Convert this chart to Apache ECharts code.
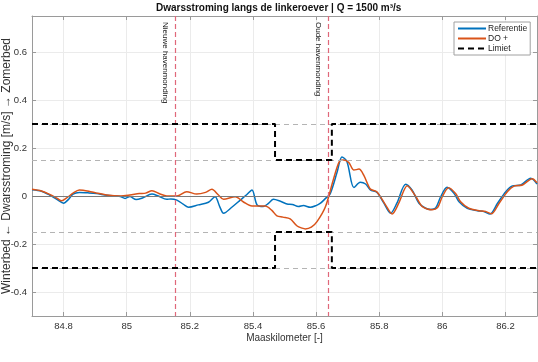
<!DOCTYPE html>
<html><head><meta charset="utf-8">
<script src="https://cdn.jsdelivr.net/npm/echarts@6/dist/echarts.min.js"></script>
<style>html,body{margin:0;padding:0;background:#fff}#c{width:538px;height:362px}</style>
</head><body><div id="c"></div>
<script>
// ---- data ----
const refKm = [84.70,84.73,84.756,84.78,84.80,84.815,84.83,84.85,84.88,84.905,84.937,84.965,84.98,84.995,85.01,85.03,85.05,85.08,85.10,85.127,85.14,85.159,85.18,85.196,85.227,85.259,85.28,85.295,85.307,85.333,85.36,85.38,85.397,85.413,85.433,85.45,85.465,85.487,85.508,85.525,85.544,85.56,85.582,85.60,85.614,85.63,85.645,85.667,85.682,85.698,85.72,85.74,85.757,85.772,85.793,85.815,85.836,85.856,85.884,85.904,85.926,85.947,85.963,85.979,85.995,86.015,86.037,86.053,86.079,86.111,86.132,86.151,86.175,86.201,86.222,86.249,86.28,86.30];
const refVal = [0.026,0.020,0.004,-0.015,-0.030,-0.015,0.008,0.015,0.013,0.010,0.003,0.000,-0.002,-0.010,-0.002,-0.015,-0.008,0.008,0.000,-0.014,-0.012,-0.017,-0.035,-0.047,-0.037,-0.026,-0.003,-0.045,-0.072,-0.047,-0.017,0.005,0.025,-0.037,-0.044,-0.030,-0.014,-0.022,-0.033,-0.035,-0.044,-0.040,-0.047,-0.040,-0.030,-0.010,0.010,0.101,0.163,0.143,0.035,0.057,0.050,0.025,0.015,-0.030,-0.072,-0.030,0.049,0.025,-0.030,-0.051,-0.056,-0.050,-0.003,0.036,0.011,-0.024,-0.051,-0.061,-0.065,-0.075,-0.030,0.018,0.042,0.046,0.074,0.050];
const doKm = [84.70,84.73,84.756,84.78,84.794,84.81,84.83,84.85,84.88,84.905,84.937,84.98,85.01,85.04,85.06,85.08,85.106,85.127,85.159,85.19,85.222,85.25,85.27,85.29,85.307,85.344,85.37,85.397,85.439,85.46,85.476,85.495,85.518,85.54,85.556,85.566,85.585,85.603,85.63,85.656,85.675,85.688,85.704,85.72,85.736,85.751,85.772,85.793,85.82,85.841,85.862,85.889,85.915,85.936,85.955,85.968,85.985,86.000,86.02,86.042,86.058,86.084,86.116,86.137,86.155,86.18,86.206,86.227,86.254,86.285,86.30];
const doVal = [0.028,0.021,0.007,-0.010,-0.020,-0.008,0.012,0.025,0.020,0.012,0.004,0.000,0.004,0.010,0.012,0.022,0.008,0.000,0.000,0.018,0.008,0.015,0.028,0.005,-0.014,-0.003,-0.025,-0.042,-0.042,-0.060,-0.083,-0.088,-0.095,-0.125,-0.134,-0.137,-0.130,-0.107,-0.044,0.074,0.146,0.150,0.139,0.108,0.112,0.087,0.029,0.017,-0.037,-0.075,-0.030,0.043,0.000,-0.044,-0.055,-0.057,-0.048,-0.003,0.034,0.010,-0.024,-0.051,-0.061,-0.065,-0.074,-0.030,0.018,0.041,0.046,0.072,0.055];
const limitKm = [84.7, 85.47, 85.47, 85.65, 85.65, 86.3];
const limitUpper = [0.3, 0.3, 0.15, 0.15, 0.3, 0.3];
const limitLower = [-0.3, -0.3, -0.15, -0.15, -0.3, -0.3];
const guideLevels = [0.3, 0.15, -0.15, -0.3];
const harbourNames = ['Nieuwe havenmonding', 'Oude havenmonding'];
const harbourKm = [85.155, 85.64];
const xRange = [84.7, 86.3];
const yRange = [-0.5, 0.75];

const zip = (a, b) => a.map((v, i) => [v, b[i]]);
const FONT = 'Liberation Sans, Arial, sans-serif';
const chart = echarts.init(document.getElementById('c'), null, {renderer: 'canvas'});

const frame = '#9a9a9a';
const baseX = {
  type: 'value', min: xRange[0], max: xRange[1], splitNumber: 8,
  axisLine: {show: true, onZero: false, lineStyle: {color: frame, width: 1}},
  axisTick: {show: true, inside: true, length: 4, lineStyle: {color: frame}},
  axisLabel: {show: true, showMinLabel: false, showMaxLabel: false, color: '#333', fontSize: 9.5, fontFamily: FONT, margin: 5},
  splitLine: {show: true, lineStyle: {color: '#ebebeb', width: 1}}
};
const baseY = {
  type: 'value', min: yRange[0], max: yRange[1], splitNumber: 6,
  axisLine: {show: true, onZero: false, lineStyle: {color: frame, width: 1}},
  axisTick: {show: true, inside: true, length: 4, lineStyle: {color: frame}},
  axisLabel: {show: true, showMinLabel: false, showMaxLabel: false, color: '#333', fontSize: 9.5, fontFamily: FONT, margin: 5},
  splitLine: {show: true, lineStyle: {color: '#ebebeb', width: 1}}
};

const option = {
  animation: false,
  backgroundColor: '#fff',
  title: {
    text: 'Dwarsstroming langs de linkeroever | Q = 1500 m³/s',
    left: 156, top: 3, padding: 0,
    textStyle: {fontSize: 10, fontWeight: 'bold', color: '#111', fontFamily: FONT}
  },
  grid: {left: 32, right: 1, top: 16, bottom: 46, containLabel: false, outerBoundsMode: 'none'},
  legend: {
    data: ['Referentie', 'DO +', 'Limiet'],
    orient: 'vertical', left: 454, top: 22,
    padding: [2, 3, 2, 3], itemGap: 1,
    itemWidth: 28, itemHeight: 8,
    itemStyle: {opacity: 0},
    backgroundColor: '#fff', borderColor: '#a0a0a0', borderWidth: 1,
    textStyle: {fontSize: 8.5, color: '#222', fontFamily: FONT, padding: [0, 0, 0, -3]}
  },
  xAxis: [
    Object.assign({}, baseX, {
      position: 'bottom',
      name: 'Maaskilometer [-]', nameLocation: 'middle', nameGap: 17, nameMoveOverlap: false,
      nameTextStyle: {fontSize: 10, color: '#333', fontFamily: FONT}
    }),
    Object.assign({}, baseX, {position: 'top', axisLabel: {show: false}, splitLine: {show: false}})
  ],
  yAxis: [
    Object.assign({}, baseY, {
      position: 'left',
      name: 'Winterbed ← Dwarsstroming [m/s] → Zomerbed', nameLocation: 'middle', nameGap: 19, nameMoveOverlap: false,
      nameTextStyle: {fontSize: 12, color: '#333', fontFamily: FONT}
    }),
    Object.assign({}, baseY, {position: 'right', axisLabel: {show: false}, splitLine: {show: false}})
  ],
  series: [
    {
      name: 'Referentie', type: 'line', data: zip(refKm, refVal),
      symbol: 'none', smooth: 0.3, z: 3,
      lineStyle: {color: '#0072BD', width: 1.5}, itemStyle: {color: '#0072BD'},
      markLine: {
        silent: true, symbol: 'none', animation: false,
        data: [
          ...guideLevels.map(v => ({yAxis: v, lineStyle: {color: '#b4b4b4', type: [5, 4], width: 1}, label: {show: false}})),
          {yAxis: 0, lineStyle: {color: '#7a7a7a', type: 'solid', width: 1.2}, label: {show: false}}
        ]
      }
    },
    {
      name: 'DO +', type: 'line', data: zip(doKm, doVal),
      symbol: 'none', smooth: 0.3, z: 4,
      lineStyle: {color: '#D95319', width: 1.5}, itemStyle: {color: '#D95319'},
      markLine: {
        silent: true, symbol: 'none', animation: false,
        data: harbourKm.map((km, i) => [
          {coord: [km, yRange[1]], name: harbourNames[i],
           lineStyle: {color: '#e0687a', type: [5, 3], width: 1.2},
           label: {show: true, formatter: '{b}', position: 'insideStartBottom', distance: 6,
                   fontSize: 8, color: '#222', fontFamily: FONT}},
          {coord: [km, yRange[0]]}
        ])
      }
    },
    {
      name: 'Limiet', type: 'line', data: zip(limitKm, limitUpper),
      symbol: 'none', z: 5,
      lineStyle: {color: '#000', width: 2, type: [6, 4]}, itemStyle: {color: '#000'}
    },
    {
      name: 'Limiet', type: 'line', data: zip(limitKm, limitLower),
      symbol: 'none', z: 5,
      lineStyle: {color: '#000', width: 2, type: [6, 4]}, itemStyle: {color: '#000'}
    }
  ]
};
chart.setOption(option);
</script>
</body></html>
